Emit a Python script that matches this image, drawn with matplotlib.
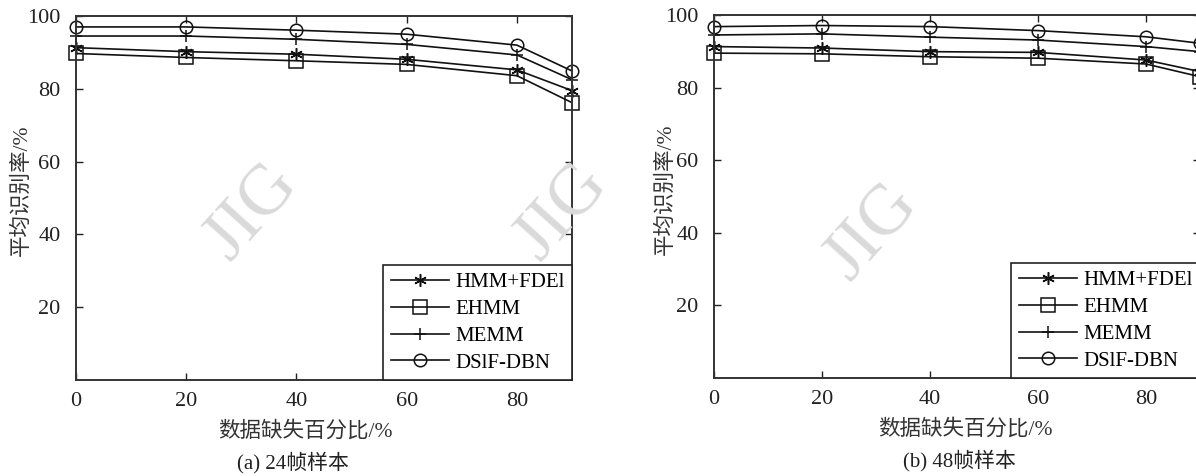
import numpy as np
import matplotlib
matplotlib.use("Agg")
from matplotlib import pyplot as plt

plt.rcParams['font.family'] = ['Liberation Serif', 'Noto Sans CJK SC']

# missing data percentage
missing = [0, 20, 40, 60, 80, 90]

# (a) 24 frame samples
a_hmm = [91.3, 90.2, 89.5, 88.1, 85.2, 79.5]
a_ehmm = [89.7, 88.6, 87.7, 86.7, 83.6, 76.2]
a_memm = [94.5, 94.5, 93.6, 92.2, 89.3, 82.5]
a_dsif = [97.0, 97.0, 96.1, 95.0, 92.0, 84.9]

# (b) 48 frame samples
b_hmm = [91.3, 90.9, 89.9, 89.7, 87.6, 84.4]
b_ehmm = [89.5, 89.3, 88.5, 88.1, 86.5, 83.0]
b_memm = [94.5, 94.8, 93.9, 93.1, 91.3, 89.9]
b_dsif = [96.8, 97.1, 96.8, 95.7, 94.0, 92.2]

labels = ['HMM+FDEl', 'EHMM', 'MEMM', 'DSlF-DBN']
xticks = [0, 20, 40, 60, 80]
yticks = [20, 40, 60, 80, 100]
captions = ['(a) 24帧样本', '(b) 48帧样本']

W, H = 1196, 476
fig = plt.figure(figsize=(W / 100, H / 100), dpi=100)

def frac(x0, y0, x1, y1):
    return [x0 / W, 1 - y1 / H, (x1 - x0) / W, (y1 - y0) / H]

styles = [
    dict(marker=(6, 2, 0), markersize=9, markeredgewidth=1.1),
    dict(marker='s', markersize=10.5, markerfacecolor='none', markeredgewidth=1.1),
    dict(marker='+', markersize=9, markeredgewidth=1.1),
    dict(marker='o', markersize=9, markerfacecolor='none', markeredgewidth=1.1),
]

# faint watermarks, behind everything
for (x, y) in [(252, 212), (872, 232), (562, 212)]:
    fig.text(x / W, 1 - y / H, 'JIG', fontsize=52, color='#dadada', rotation=48,
             ha='center', va='center', zorder=0)

def draw(ax, series, caption, xl_pos, cap_pos, yl_pos):
    ax.patch.set_alpha(0)
    for ys, lab, st in zip(series, labels, styles):
        ax.plot(missing, ys, color='#111111', linewidth=1.2, label=lab, clip_on=False, **st)
    ax.set_xlim(0, 90)
    ax.set_ylim(0, 100)
    ax.set_xticks(xticks)
    ax.set_yticks(yticks)
    ax.tick_params(direction='in', top=True, right=True, length=5, width=1.0,
                   labelsize=16, colors='#222222')
    ax.tick_params(axis='x', pad=9)
    ax.tick_params(axis='y', pad=11)
    for s in ax.spines.values():
        s.set_linewidth(1.4)
        s.set_color('#333333')
    ax.set_xlabel('数据缺失百分比/%', fontsize=15.5, color='#333333', va='center')
    ax.xaxis.set_label_coords(xl_pos, -0.14)
    ax.set_ylabel('平均识别率/%', fontsize=15.5, color='#333333', va='center')
    ax.yaxis.set_label_coords(yl_pos, 0.52)
    ax.text(cap_pos, -0.228, caption, transform=ax.transAxes, ha='center', va='center',
            fontsize=15, color='#222222')
    leg = ax.legend(loc='lower right', fontsize=15, frameon=True, fancybox=False,
                    framealpha=1, edgecolor='#222222', borderaxespad=0,
                    handlelength=2.8, handletextpad=0.3, labelspacing=0.35,
                    borderpad=0.35)
    leg.get_frame().set_linewidth(1.2)

ax1 = fig.add_axes(frac(76, 16, 572, 380))
draw(ax1, [a_hmm, a_ehmm, a_memm, a_dsif], captions[0], 0.462, 0.4375, -0.109)

ax2 = fig.add_axes(frac(714, 15, 1200, 378))
draw(ax2, [b_hmm, b_ehmm, b_memm, b_dsif], captions[1], 0.517, 0.505, -0.10)

fig.savefig('out.png', dpi=100)
